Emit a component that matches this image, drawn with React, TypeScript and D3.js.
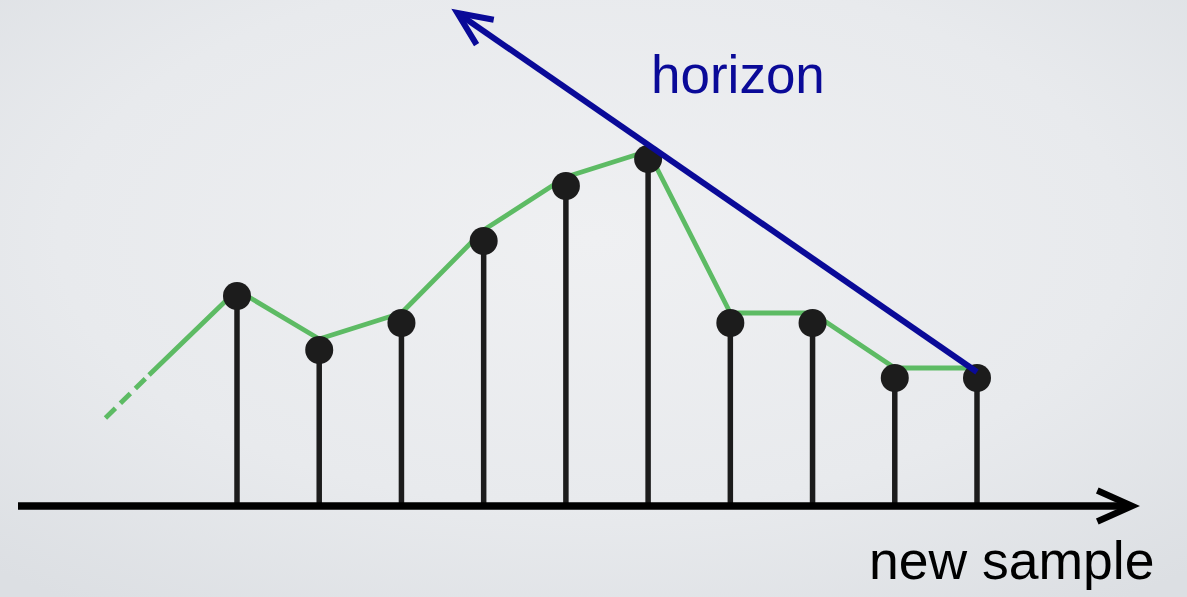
import React from "react";
import * as d3 from "d3";

// Sample positions along the time axis and the sampled heights
const sampleIndex = [0, 1, 2, 3, 4, 5, 6, 7, 8, 9];
const sampleValues = [210, 156, 183, 265, 320, 347, 183, 183, 128, 128];
// Underlying signal (green polyline) at the same indices
const signalValues = [216, 167, 193, 276, 329, 355, 193, 193, 138, 138];
// Lead-in of the signal: dashed start, solid from the break point
const leadIn = [
  { i: -1.6, v: 88 },
  { i: -1.07, v: 131 },
];
// Horizon line from the newest sample up to its arrow tip
const horizon = [
  { i: 9, v: 134 },
  { i: 2.68, v: 493 },
];
const horizonLabel = "horizon";
const axisLabel = "new sample";

const W = 1187;
const H = 597;

export default function App() {
  const x = d3.scaleLinear().domain([0, 9]).range([237, 977]);
  const y = d3.scaleLinear().domain([0, 500]).range([506, 6]);

  const line = d3
    .line<{ i: number; v: number }>()
    .x((d) => x(d.i))
    .y((d) => y(d.v));

  const signalPts = [leadIn[1], ...sampleIndex.map((i) => ({ i, v: signalValues[i] }))];

  const arrowHead = (tx: number, ty: number, fx: number, fy: number, len: number, ang: number) => {
    const a = Math.atan2(fy - ty, fx - tx);
    const p1 = [tx + len * Math.cos(a + ang), ty + len * Math.sin(a + ang)];
    const p2 = [tx + len * Math.cos(a - ang), ty + len * Math.sin(a - ang)];
    return `M${p1[0]},${p1[1]}L${tx},${ty}L${p2[0]},${p2[1]}`;
  };

  const axisY = y(0);
  const axisStart = 18;
  const axisEnd = 1132;

  const hx0 = x(horizon[0].i);
  const hy0 = y(horizon[0].v);
  const hx1 = x(horizon[1].i);
  const hy1 = y(horizon[1].v);

  const blue = "#0a0a98";
  const green = "#5dbb64";
  const stemColor = "#1c1c1c";

  return (
    <svg
      width={W}
      height={H}
      style={{ position: "absolute", left: 0, top: 0, display: "block" }}
      fontFamily="'Liberation Sans', Arial, sans-serif"
    >
      <defs>
        <radialGradient id="bg" cx="50%" cy="40%" r="75%">
          <stop offset="0%" stopColor="#eff0f2" />
          <stop offset="60%" stopColor="#e8eaed" />
          <stop offset="100%" stopColor="#dcdfe3" />
        </radialGradient>
      </defs>
      <rect x={0} y={0} width={W} height={H} fill="url(#bg)" />

      {/* signal lead-in, dashed */}
      <path
        d={line([leadIn[0], leadIn[1]]) || ""}
        fill="none"
        stroke={green}
        strokeWidth={4.8}
        strokeDasharray="14 7"
      />
      {/* signal */}
      <path
        d={line(signalPts) || ""}
        fill="none"
        stroke={green}
        strokeWidth={4.8}
        strokeLinejoin="round"
      />

      {/* stems and sample dots */}
      {sampleIndex.map((i) => (
        <g key={i}>
          <line
            x1={x(i)}
            x2={x(i)}
            y1={axisY}
            y2={y(sampleValues[i])}
            stroke={stemColor}
            strokeWidth={5.5}
          />
          <circle cx={x(i)} cy={y(sampleValues[i])} r={14} fill={stemColor} />
        </g>
      ))}

      {/* time axis */}
      <line x1={axisStart} x2={axisEnd - 4} y1={axisY} y2={axisY} stroke="#000" strokeWidth={7.5} />
      <path
        d={arrowHead(axisEnd, axisY, axisStart, axisY, 38, 0.42)}
        fill="none"
        stroke="#000"
        strokeWidth={6.5}
        strokeLinejoin="miter"
      />

      {/* horizon */}
      <line x1={hx0} y1={hy0} x2={hx1 + 3} y2={hy1 + 2} stroke={blue} strokeWidth={6} />
      <path
        d={arrowHead(hx1, hy1, hx0, hy0, 37, 0.42)}
        fill="none"
        stroke={blue}
        strokeWidth={6}
        strokeLinejoin="miter"
      />

      <text x={651} y={93} fontSize={53} fill={blue}>
        {horizonLabel}
      </text>
      <text x={869} y={579} fontSize={53.5} fill="#000">
        {axisLabel}
      </text>
    </svg>
  );
}
